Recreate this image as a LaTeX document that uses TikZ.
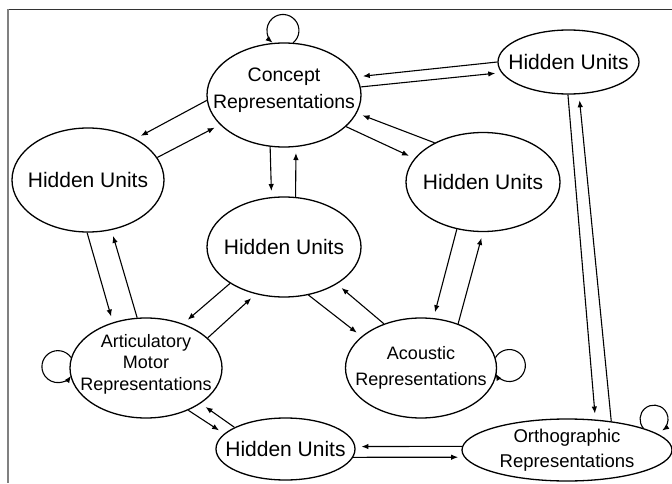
\documentclass[tikz,border=0pt]{standalone}
\usepackage{fontspec}
\setmainfont{Liberation Sans}
\usetikzlibrary{shapes.geometric,arrows.meta}
\begin{document}
\begin{tikzpicture}[x=1pt,y=1pt,>={Latex[length=7pt,width=5.5pt]},line width=1.1pt,
  layer/.style={draw,ellipse,line width=1.3pt,inner sep=-20pt,align=center},
  hid/.style={layer,font=\fontsize{21}{25}\selectfont},
  link/.style={->,shorten >=6pt}]
\useasboundingbox (0,0) rectangle (672,483);
% frame
\draw[black!80,line width=1.5pt] (7,473.5) -- (672,473.5);
\draw[black!50,line width=1.5pt] (8,473.5) -- (8,0);
% layers
\node[layer,minimum width=154pt,minimum height=104pt,text depth=14pt,font=\fontsize{19.5}{27}\selectfont] (concept) at (284,388) {Concept\\Representations};
\node[hid,minimum width=141pt,minimum height=64pt] (hidTR) at (568.5,421) {Hidden Units};
\node[hid,minimum width=152pt,minimum height=104pt] (hidL) at (88,303) {Hidden Units};
\node[hid,minimum width=154pt,minimum height=99pt] (hidR) at (483,301) {Hidden Units};
\node[hid,minimum width=154pt,minimum height=100pt] (hidC) at (284,236) {Hidden Units};
\node[layer,minimum width=152pt,minimum height=100pt,text depth=12pt,font=\fontsize{18}{21.5}\selectfont] (artic) at (146,115) {Articulatory\\Motor\\Representations};
\node[layer,minimum width=151pt,minimum height=100pt,font=\fontsize{18}{26}\selectfont] (acoust) at (421,115) {Acoustic\\Representations};
\node[hid,minimum width=139pt,minimum height=62pt] (hidB) at (285.5,34) {Hidden Units};
\node[layer,minimum width=210pt,minimum height=62pt,font=\fontsize{18.5}{25}\selectfont] (ortho) at (567,33) {Orthographic\\Representations};
% connections, two ways each
\draw[link] (hidTR.180) -- (concept.14);
\draw[link] (concept.6) -- (hidTR.189);
\draw[link] (concept.184) -- (hidL.41);
\draw[link] (hidL.18) -- (concept.205);
\draw[link] (concept.255) -- (hidC.104);
\draw[link] (hidC.77) -- (concept.283);
\draw[link] (hidR.141) -- (concept.346);
\draw[link] (concept.333) -- (hidR.161);
\draw[link] (hidL.269) -- (artic.126);
\draw[link] (artic.100) -- (hidL.295);
\draw[link] (hidC.214) -- (artic.50);
\draw[link] (artic.26) -- (hidC.239);
\draw[link] (hidC.297) -- (acoust.152);
\draw[link] (acoust.130) -- (hidC.325);
\draw[link] (hidR.241) -- (acoust.76);
\draw[link] (acoust.50) -- (hidR.270);
\draw[link] (artic.315) -- (hidB.166);
\draw[link] (hidB.157) -- (artic.327);
\draw[link] (ortho.178) -- (hidB.2);
\draw[link] (hidB.353) -- (ortho.184);
\draw[link] (hidTR.269) -- (ortho.47);
\draw[link] (ortho.33) -- (hidTR.288);
% self loops
\draw[->] (concept.80) arc[start angle=-50,end angle=230,radius=16];
\draw[->] (artic.172) arc[start angle=35,end angle=325,radius=16];
\draw[->] (acoust.8) arc[start angle=150,end angle=-150,radius=16];
\draw[->] (ortho.16) arc[start angle=220,end angle=-55,radius=14];
\end{tikzpicture}
\end{document}
